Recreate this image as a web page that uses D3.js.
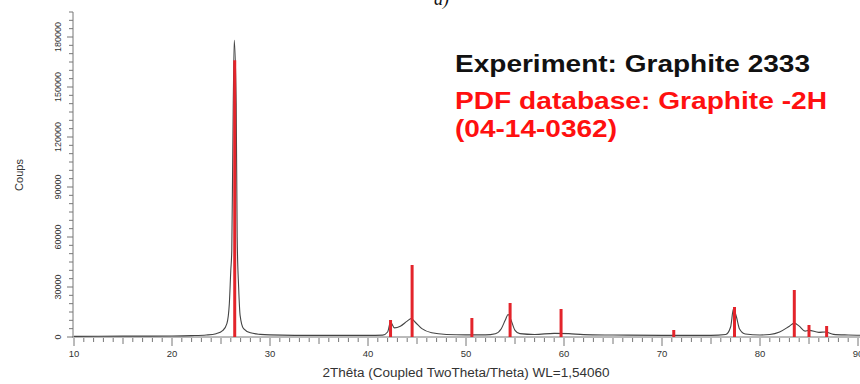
<!DOCTYPE html>
<html>
<head>
<meta charset="utf-8">
<script src="https://cdn.jsdelivr.net/npm/d3@7"></script>
<style>
  html, body { margin: 0; padding: 0; background: #fff; }
  svg { display: block; font-family: "Liberation Sans", Arial, sans-serif; }
</style>
</head>
<body>
<svg id="chart" width="860" height="384"></svg>
<script>
// experimental pattern (2theta in degrees, counts)
const expTheta = [10, 15, 20, 22, 23.5, 24.5, 25.2, 25.6, 25.85, 26.0, 26.1, 26.2, 26.35, 26.55, 26.65, 26.8, 26.95, 27.3, 28, 29, 30,
  35, 40, 41.5, 42.0, 42.3, 42.7, 43.3, 44.0, 44.4, 44.8, 45.5, 46.5, 48, 50, 52, 53, 53.6, 54.0, 54.3, 54.6, 55, 55.5, 57,
  59, 60.5, 62, 65, 70, 75, 76.5, 77.0, 77.3, 77.6, 77.9, 78.5, 80, 81, 82, 83, 83.5, 84, 84.6, 85.0, 86, 86.7, 87.5, 89, 90.3];
const expCounts = [400, 500, 600, 800, 1200, 2000, 4000, 8000, 20000, 40000, 52000, 110000, 178000, 140000, 60000, 30000, 13000, 5000, 2500, 1600, 1300,
  1000, 1000, 1100, 3000, 9000, 5500, 6500, 9500, 11000, 9000, 5000, 2500, 1500, 1300, 1300, 2000, 5000, 10000, 13500, 10000, 4000, 2000, 1500,
  2200, 2000, 1400, 1200, 1000, 1000, 1500, 6000, 17000, 12000, 5000, 1800, 1200, 1500, 3000, 6500, 8300, 6500, 3500, 4000, 2800, 3000, 1600, 1200, 1000];

// PDF reference sticks, Graphite-2H 04-14-0362
const pdfTheta = [26.4, 42.3, 44.5, 50.6, 54.5, 59.7, 71.2, 77.4, 83.5, 85.0, 86.8];
const pdfIntensity = [166000, 10200, 43200, 11400, 20400, 16800, 4200, 18000, 28200, 7200, 6600];

const xTickValues = [10, 20, 30, 40, 50, 60, 70, 80, 90];
const yTickValues = [0, 30000, 60000, 90000, 120000, 150000, 180000];

const xTitle = '2Thêta (Coupled TwoTheta/Theta) WL=1,54060';
const yTitle = 'Coups';
const legendLines = ['Experiment: Graphite 2333', 'PDF database: Graphite -2H', '(04-14-0362)'];

const svg = d3.select('#chart');

const x = d3.scaleLinear().domain([10, 90]).range([74, 858]);
const y = d3.scaleLinear().domain([0, 195000]).range([337, 12]);

const axisColor = '#777';
const labelColor = '#333';

// y axis: minor ticks every 5000, labelled every 30000
const yAxis = svg.append('g').attr('transform', 'translate(73,0)');
yAxis.append('line')
  .attr('y1', y(0)).attr('y2', y(195000))
  .attr('stroke', axisColor);
yAxis.selectAll('.ytick')
  .data(d3.range(0, 195001, 5000))
  .enter().append('line')
  .attr('x1', d => d % 30000 === 0 ? -6 : -4).attr('x2', 0)
  .attr('y1', d => y(d)).attr('y2', d => y(d))
  .attr('stroke', axisColor);
yAxis.selectAll('.ylab')
  .data(yTickValues)
  .enter().append('text')
  .attr('transform', d => `translate(-12,${y(d)}) rotate(-90)`)
  .attr('text-anchor', 'middle')
  .attr('font-size', '9px')
  .attr('fill', labelColor)
  .text(d => d);

// x axis: minor every degree, longer at 5, labelled every 10
const xAxis = svg.append('g').attr('transform', `translate(0,${y(0)})`);
xAxis.append('line')
  .attr('x1', 72).attr('x2', 860)
  .attr('stroke', axisColor);
xAxis.selectAll('.xtick')
  .data(d3.range(10, 91, 1))
  .enter().append('line')
  .attr('x1', d => x(d)).attr('x2', d => x(d))
  .attr('y1', 1)
  .attr('y2', d => d % 10 === 0 ? 9 : (d % 5 === 0 ? 7 : 5))
  .attr('stroke', axisColor);
xAxis.selectAll('.xlab')
  .data(xTickValues)
  .enter().append('text')
  .attr('x', d => x(d))
  .attr('y', 20)
  .attr('text-anchor', 'middle')
  .attr('font-size', '9.5px')
  .attr('fill', labelColor)
  .text(d => d);

// axis titles
svg.append('text')
  .attr('x', 466).attr('y', 377)
  .attr('text-anchor', 'middle')
  .attr('font-size', '12px')
  .attr('fill', labelColor)
  .attr('textLength', 287)
  .attr('lengthAdjust', 'spacingAndGlyphs')
  .text(xTitle);

svg.append('text')
  .attr('transform', 'translate(23,175) rotate(-90)')
  .attr('text-anchor', 'middle')
  .attr('font-size', '11px')
  .attr('fill', labelColor)
  .text(yTitle);

// experimental curve
const data = expTheta.map((t, i) => ({ t: t, c: expCounts[i] }));
const line = d3.line().x(d => x(d.t)).y(d => y(d.c)).curve(d3.curveMonotoneX);
svg.append('path')
  .attr('d', line(data))
  .attr('fill', 'none')
  .attr('stroke', '#444')
  .attr('stroke-width', 1.1);

// reference sticks
svg.selectAll('.stick')
  .data(pdfTheta)
  .enter().append('line')
  .attr('x1', d => x(d)).attr('x2', d => x(d))
  .attr('y1', y(0))
  .attr('y2', (d, i) => y(pdfIntensity[i]))
  .attr('stroke', '#e3242b')
  .attr('stroke-width', 3);

// legend text
const legendFill = ['#111', '#ff1010', '#ff1010'];
const legendY = [72, 109, 137];
const legendW = [355, 372, 162];
svg.selectAll('.legend')
  .data(legendLines)
  .enter().append('text')
  .attr('x', 455)
  .attr('y', (d, i) => legendY[i])
  .attr('font-size', '24px')
  .attr('font-weight', 'bold')
  .attr('fill', (d, i) => legendFill[i])
  .attr('textLength', (d, i) => legendW[i])
  .attr('lengthAdjust', 'spacingAndGlyphs')
  .text(d => d);

// panel label, cut by the top edge as in the source figure
svg.append('text')
  .attr('x', 434).attr('y', 5)
  .attr('font-family', '"Liberation Serif", serif')
  .attr('font-style', 'italic')
  .attr('font-size', '18px')
  .attr('fill', '#111')
  .text('a)');
</script>
</body>
</html>
